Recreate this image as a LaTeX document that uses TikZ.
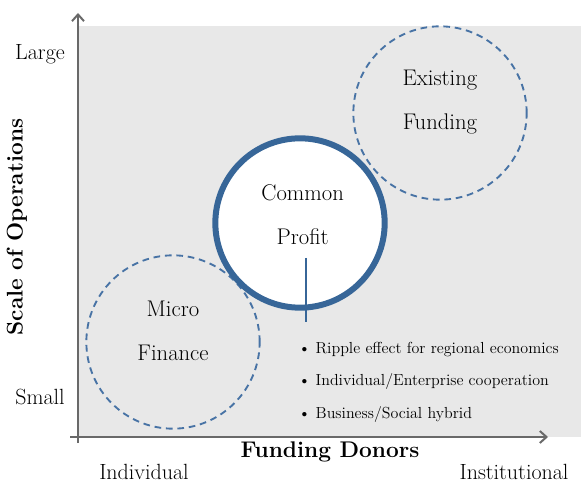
\documentclass[tikz,border=0pt]{standalone}
\usepackage{tikz}
\usepackage{xcolor}
\usetikzlibrary{arrows.meta, calc, positioning}
\definecolor{planegray}{RGB}{232,232,232}
\definecolor{axisgray}{RGB}{105,105,105}
\definecolor{ringblue}{RGB}{55,102,152}
\definecolor{dashblue}{RGB}{72,115,165}

\tikzset{
    zone/.style={circle, draw=dashblue, line width=1.4pt, dash pattern=on 5pt off 3.6pt, minimum size=130pt, inner sep=0pt},
    core/.style={circle, draw=ringblue, fill=white, line width=4.5pt, minimum size=127pt, inner sep=0pt},
    zonetext/.style={align=center, font=\fontsize{17}{33}\selectfont, inner sep=0pt},
    axislabel/.style={font=\fontsize{16.5}{19}\selectfont, inner sep=0pt},
    axistitle/.style={font=\fontsize{17}{19}\selectfont\bfseries, inner sep=0pt}
}

\begin{document}
\begin{tikzpicture}[x=0.75pt, y=-0.75pt, >={Straight Barb[length=5pt, width=9pt]}]
        \useasboundingbox (0,0) rectangle (581,484);

        % Plane
        \fill[planegray] (78,26) rectangle (581,437);

        % Axes
        \coordinate (origin x) at (70,437);
        \coordinate (end x) at (548,437);
        \coordinate (origin y) at (78,443);
        \coordinate (end y) at (78,13);
        \draw[->, axisgray, line width=1.5pt] (origin x) -- (end x);
        \draw[->, axisgray, line width=1.5pt] (origin y) -- (end y);

        % Axis labels
        \node[axislabel] (large) at (40,54) {Large};
        \node[axislabel] (small) at (40,397) {Small};
        \node[axislabel] (individual) at (144,472) {Individual};
        \node[axislabel] (institutional) at (514,472) {Institutional};
        \node[axistitle] (donors) at (330,452) {Funding Donors};
        \node[axistitle, rotate=90] (scale) at (17,227) {Scale of Operations};

        % Funding zones
        \node[zone] (existing) at (440,113) {};
        \node[zonetext] (existing text) at ([yshift=8pt]existing.center) {Existing\\Funding};
        \node[zone] (micro) at (173,342) {};
        \node[zonetext] (micro text) at ([yshift=8pt]micro.center) {Micro\\Finance};

        % Common profit
        \node[core] (common) at (300,223) {};
        \node[zonetext] (common text) at ([yshift=6pt, xshift=2pt]common.center) {Common\\Profit};

        % Pointer to features
        \coordinate (tick top) at (306,258);
        \coordinate (tick end) at (306,322);
        \draw[ringblue, line width=1pt] (tick top) -- (tick end);

        % Features
        \node[anchor=west, align=left, inner sep=0pt, font=\fontsize{12}{24.4}\selectfont] (features) at (298,382)
            {\textbullet\ Ripple effect for regional economics\\
             \textbullet\ Individual/Enterprise cooperation\\
             \textbullet\ Business/Social hybrid};
    \end{tikzpicture}
\end{document}
